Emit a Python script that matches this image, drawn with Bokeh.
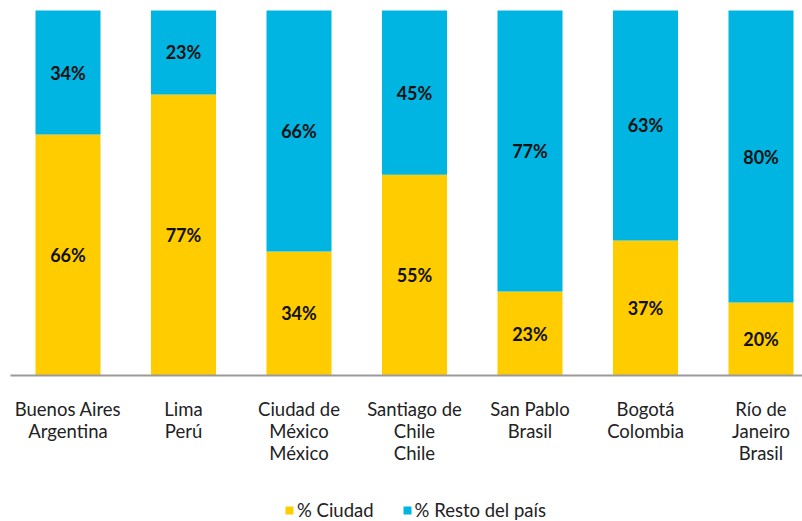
from bokeh.plotting import figure
from bokeh.models import ColumnDataSource, Legend, LegendItem
from bokeh.core.properties import value
from bokeh.embed import file_html
from bokeh.resources import INLINE

categories = ["Buenos Aires\nArgentina", "Lima\nPerú", "Ciudad de\nMéxico\nMéxico",
              "Santiago de\nChile\nChile", "San Pablo\nBrasil", "Bogotá\nColombia",
              "Río de\nJaneiro\nBrasil"]
ciudad = [66, 77, 34, 55, 23, 37, 20]
resto = [34, 23, 66, 45, 77, 63, 80]
series_names = ["% Ciudad", "% Resto del país"]

YELLOW = "#FFCC00"
BLUE = "#00B5E2"

xs = list(range(len(categories)))
src = ColumnDataSource(dict(x=xs, ciudad=ciudad, resto=resto))

p = figure(width=802, height=521, output_backend="svg", toolbar_location=None,
           x_range=(-0.5844, 6.3593), y_range=(-40.0, 102.74),
           min_border=0, min_border_left=0, min_border_right=0,
           min_border_top=0, min_border_bottom=0)
p.axis.visible = False
p.grid.visible = False
p.outline_line_color = None
p.background_fill_color = "white"
p.border_fill_color = "white"

rs = p.vbar_stack(["ciudad", "resto"], x="x", width=0.563, source=src,
                  color=[YELLOW, BLUE], line_color=None)

# axis line
p.segment(x0=[-0.498], y0=[0], x1=[6.36], y1=[0], line_color="#9a9a9a", line_width=2)

# value labels
lx, ly, lt = [], [], []
for i in xs:
    lx += [i, i]
    ly += [ciudad[i] / 2, ciudad[i] + resto[i] / 2]
    lt += [f"{ciudad[i]}%", f"{resto[i]}%"]
p.text(x=lx, y=ly, text=lt, text_align="center", text_baseline="middle",
       text_font=value("Lato"), text_font_style="bold", text_font_size="18px",
       text_color="#111111")

# category labels
cx, cy, ct = [], [], []
for i, c in enumerate(categories):
    for j, line in enumerate(c.split("\n")):
        cx.append(i)
        cy.append(-(33 + 22 * j) / 3.65)
        ct.append(line)
p.text(x=cx, y=cy, text=ct, text_align="center", text_baseline="middle",
       text_font=value("Lato"), text_font_size="18.5px", text_color="#222222")

legend = Legend(items=[LegendItem(label=series_names[0], renderers=[rs[0]]),
                       LegendItem(label=series_names[1], renderers=[rs[1]])],
                orientation="horizontal", location=(284, 0),
                glyph_width=10, glyph_height=10, label_standoff=3, spacing=28,
                padding=0, margin=0, border_line_color=None,
                background_fill_alpha=0,
                label_text_font="Lato", label_text_font_size="18.5px",
                label_text_color="#222222")
p.add_layout(legend)

open("out.html", "w").write(file_html(p, INLINE))
